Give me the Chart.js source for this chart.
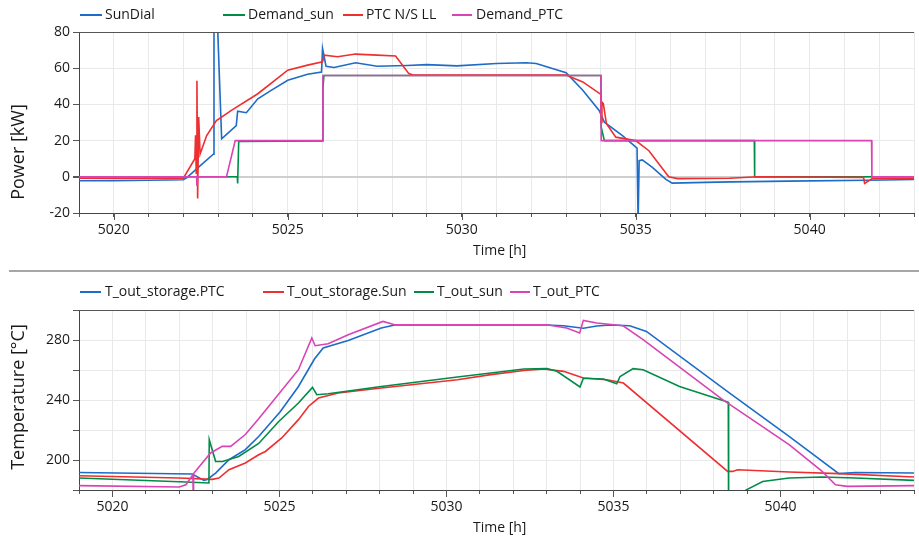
<!DOCTYPE html>
<html>
<head>
<meta charset="utf-8">
<script src="https://cdn.jsdelivr.net/npm/chart.js@4.4.1/dist/chart.umd.min.js"></script>
<style>
  html, body { margin: 0; padding: 0; background: #ffffff; }
  body { width: 919px; height: 542px; position: relative; overflow: hidden; }
  .panel { position: absolute; left: 0; }
  #p1 { top: 0; width: 919px; height: 270px; }
  #p2 { top: 270px; width: 919px; height: 272px; }
</style>
</head>
<body>
<div class="panel" id="p1"><canvas id="c1" width="919" height="270"></canvas></div>
<div class="panel" id="p2"><canvas id="c2" width="919" height="272"></canvas></div>
<script>
// ---------------- DATA ----------------
// Top panel: Power [kW] vs Time [h]
const powerLabels = ["SunDial", "Demand_sun", "PTC N/S LL", "Demand_PTC"];
const sunDial = [[5019,-2.2],[5020,-2.1],[5021,-1.9],[5022,-1.6],[5022.1,-0.5],[5022.43,5.2],[5022.86,12.5],[5022.88,90],[5022.97,90],[5023.1,21],[5023.52,28.3],[5023.56,36.3],[5023.81,35.4],[5024.14,43.1],[5024.5,47.5],[5025,53.3],[5025.57,56.7],[5025.97,57.9],[5026.0,70.9],[5026.1,61.1],[5026.33,60.4],[5026.95,63],[5027.57,61.1],[5028.43,61.5],[5029,62],[5029.86,61.3],[5031,62.6],[5031.86,63],[5032.14,62.6],[5033,57.5],[5033.48,47.8],[5033.95,36.7],[5034.1,30.2],[5034.62,22.8],[5035.04,15.9],[5035.07,-25],[5035.1,8.9],[5035.19,9.3],[5035.48,5.2],[5035.86,-1.3],[5036.05,-3.5],[5037,-3.1],[5037.76,-2.8],[5039.37,-2.4],[5041.67,-1.9],[5043,-1.5]];
const demandSun = [[5019,0],[5023.55,0],[5023.56,-3.7],[5023.59,19.5],[5026.0,19.8],[5026.01,48.7],[5026.04,56],[5034.0,56],[5034.01,27.4],[5034.1,20],[5038.41,20],[5038.42,0],[5043,0]];
const ptcNSLL = [[5019,-0.8],[5022,-0.8],[5022.33,10],[5022.35,23],[5022.37,2],[5022.39,53],[5022.41,-12],[5022.44,33],[5022.48,12.6],[5022.67,22.8],[5022.95,31.1],[5023.38,36.7],[5024.14,45.9],[5025,58.9],[5025.57,61.7],[5026,63.5],[5026.05,67.2],[5026.43,66.3],[5026.95,67.8],[5027.57,67.2],[5028.1,66.7],[5028.48,57],[5028.6,56.2],[5033,56.2],[5033.48,52.4],[5034.0,45.5],[5034.01,30],[5034.03,41.3],[5034.07,40.4],[5034.16,29.3],[5034.43,21.9],[5035.0,20],[5035.38,14.4],[5035.95,0],[5036.2,-1],[5037.7,-0.8],[5038.5,0],[5041.55,-0.3],[5041.58,-3.7],[5041.8,-1],[5043,-0.8]];
const demandPTC = [[5019,0],[5022.38,0],[5022.39,-5],[5022.41,0],[5023.24,0],[5023.49,20],[5026.0,20],[5026.01,56],[5034.0,56],[5034.01,20],[5041.78,20],[5041.79,0],[5043,0]];

// Bottom panel: Temperature [°C] vs Time [h]
const tempLabels = ["T_out_storage.PTC", "T_out_storage.Sun", "T_out_sun", "T_out_PTC"];
const tStoragePTC = [[5019,191.7],[5022.39,190.7],[5022.74,186.4],[5022.84,187],[5023.09,191.3],[5023.49,200.2],[5023.98,206.9],[5024.38,215.7],[5025.03,232.4],[5025.57,249],[5026.05,267.3],[5026.31,274.7],[5027.06,279.7],[5028.05,288],[5028.45,290],[5033.0,290],[5033.5,289.5],[5034.1,287.8],[5034.5,289.3],[5034.9,290],[5035.49,289.5],[5035.99,285.7],[5038.47,244.7],[5040.26,215.7],[5041.75,190.9],[5042.24,191.7],[5044,191.3]];
const tStorageSun = [[5019,189.5],[5022,188],[5022.99,187.1],[5023.19,188],[5023.49,193.5],[5023.98,198],[5024.38,203.5],[5024.58,205.7],[5025.07,214.7],[5025.57,226.9],[5025.87,235.7],[5026.17,241.3],[5026.76,244.7],[5028.05,248],[5030.33,253.5],[5031.33,256.9],[5032.32,259.7],[5032.92,260.7],[5033.51,259.1],[5034.1,254.7],[5034.8,253.5],[5035.3,251.3],[5038.42,192.4],[5038.57,192.4],[5038.72,193.5],[5040.26,192],[5041.75,190.9],[5044,188.7]];
const tOutSun = [[5019,188],[5022,185.5],[5022.89,184.7],[5022.9,213.5],[5023.09,199.1],[5023.3,199],[5023.78,202.4],[5024.38,211],[5024.98,225.7],[5025.57,238],[5025.99,248.4],[5026.12,243.5],[5026.46,244.2],[5028.05,249],[5030.33,255.3],[5031.33,258],[5032.32,260.7],[5033.01,260.9],[5033.31,259.1],[5034.0,248.7],[5034.1,254.5],[5034.7,254],[5035.1,250.9],[5035.2,255.7],[5035.59,260.9],[5035.89,260.2],[5036.98,249],[5038.37,239],[5038.44,238.5],[5038.45,150],[5038.8,170],[5038.97,180],[5039.47,185.7],[5040.26,188],[5041.25,188.7],[5042.24,188],[5044,186.4]];
const tOutPTC = [[5019,182.9],[5022,182],[5022.2,183.5],[5022.41,190.2],[5022.42,176],[5022.43,191],[5022.94,204.7],[5023.29,209.1],[5023.54,209.1],[5023.98,217],[5024.38,227.5],[5024.58,233],[5025.57,260.2],[5025.97,281.3],[5026.07,276.2],[5026.46,277.5],[5027.06,283.5],[5028.1,292.4],[5028.45,290.2],[5033.0,290.2],[5033.6,288],[5033.99,284.7],[5034.1,293.1],[5034.5,291.3],[5035.29,289.5],[5035.89,280.2],[5038.27,240.2],[5040.26,210.2],[5041.25,192.4],[5041.65,183.5],[5042,182.4],[5044,182.9]];

// Axis ranges and tick labels
const powerXRange = [5019, 5043];
const tempXRange = [5019, 5044];
const powerYRange = [-20, 80];
const tempYRange = [180, 300];
const xLabelTicks = [5020, 5025, 5030, 5035, 5040];
const powerYLabelTicks = [-20, 0, 20, 40, 60, 80];
const tempYLabelTicks = [200, 240, 280];

// ---------------- STYLE ----------------
const COLORS = ['rgb(28,108,200)', 'rgb(238,46,47)', 'rgb(0,140,72)', 'rgb(217,67,180)'];
const FONT = '"Open Sans", "Noto Sans", sans-serif';
const TEXT = '#1a1a1a';

function toXY(pairs) { return pairs.map(p => ({ x: p[0], y: p[1] })); }

function makeDatasets(labels, series, colorIdx) {
  return series.map((s, i) => ({
    label: labels[i],
    data: toXY(s),
    borderColor: COLORS[colorIdx[i]],
    backgroundColor: COLORS[colorIdx[i]],
    borderWidth: 1.6,
    pointRadius: 0,
    tension: 0,
    fill: false,
    order: series.length - 1 - i
  }));
}

function decorPlugin(cfg) {
  return {
    id: 'decor',
    afterDraw(chart) {
      const ctx = chart.ctx;
      const a = chart.chartArea;
      ctx.save();
      // top frame line
      ctx.strokeStyle = '#555';
      ctx.lineWidth = 1;
      ctx.beginPath();
      ctx.moveTo(a.left, Math.round(a.top) + 0.5);
      ctx.lineTo(a.right, Math.round(a.top) + 0.5);
      ctx.stroke();
      // longer ticks at labelled x values
      const xs = chart.scales.x;
      ctx.strokeStyle = '#555';
      xLabelTicks.forEach(v => {
        const px = Math.round(xs.getPixelForValue(v)) + 0.5;
        ctx.beginPath();
        ctx.moveTo(px, a.bottom);
        ctx.lineTo(px, a.bottom + 7);
        ctx.stroke();
      });
      // separator
      if (cfg.separator) {
        ctx.strokeStyle = '#a6a6a6';
        ctx.lineWidth = 2;
        ctx.beginPath();
        ctx.moveTo(9, cfg.separator);
        ctx.lineTo(919, cfg.separator);
        ctx.stroke();
      }
      // legend
      ctx.font = '14px ' + FONT;
      ctx.textBaseline = 'middle';
      ctx.textAlign = 'left';
      cfg.legend.forEach((it, i) => {
        const ds = chart.data.datasets[i];
        ctx.strokeStyle = ds.borderColor;
        ctx.lineWidth = 2;
        ctx.beginPath();
        ctx.moveTo(it.x0, cfg.legendY);
        ctx.lineTo(it.x1, cfg.legendY);
        ctx.stroke();
        ctx.fillStyle = TEXT;
        ctx.fillText(ds.label, it.tx, cfg.legendY);
      });
      // x title
      ctx.fillStyle = TEXT;
      ctx.font = '14px ' + FONT;
      ctx.fillText(cfg.xTitle, cfg.xTitleX, cfg.xTitleY);
      // y title
      ctx.translate(cfg.yTitleX, cfg.yTitleY);
      ctx.rotate(-Math.PI / 2);
      ctx.textAlign = 'center';
      ctx.font = '18px ' + FONT;
      ctx.fillText(cfg.yTitle, 0, 0);
      ctx.restore();
    }
  };
}

function makeChart(canvasId, datasets, xr, yr, yLabelTicks, yWidth, xHeight, padTop, zeroLine, decor) {
  return new Chart(document.getElementById(canvasId), {
    type: 'line',
    data: { datasets },
    options: {
      responsive: false,
      animation: false,
      events: [],
      layout: { padding: { top: padTop, left: 0, right: 0, bottom: 0 } },
      plugins: { legend: { display: false }, tooltip: { enabled: false }, title: { display: false } },
      scales: {
        x: {
          type: 'linear',
          min: xr[0], max: xr[1],
          afterFit(s) { s.height = xHeight; },
          border: { display: true, color: '#444', width: 1 },
          grid: { color: '#e9e9e9', lineWidth: 1, drawTicks: true, tickLength: 4, tickColor: '#555' },
          ticks: {
            stepSize: 1, autoSkip: false, maxRotation: 0, padding: 5,
            color: TEXT, font: { family: FONT, size: 14 },
            callback: v => xLabelTicks.includes(v) ? String(v) : ''
          }
        },
        y: {
          type: 'linear',
          min: yr[0], max: yr[1],
          afterFit(s) { s.width = yWidth; },
          border: { display: true, color: '#444', width: 1 },
          grid: {
            color: c => (zeroLine && c.tick && c.tick.value === 0) ? '#cfcfcf' : '#e9e9e9',
            lineWidth: c => (zeroLine && c.tick && c.tick.value === 0) ? 2 : 1,
            drawTicks: true, tickLength: 6, tickColor: '#555'
          },
          ticks: {
            stepSize: 20, padding: 3,
            color: TEXT, font: { family: FONT, size: 14 },
            callback: v => yLabelTicks.includes(v) ? String(v) : ''
          }
        }
      }
    },
    plugins: [decorPlugin(decor)]
  });
}

makeChart('c1',
  makeDatasets(powerLabels, [sunDial, demandSun, ptcNSLL, demandPTC], [0, 2, 1, 3]),
  powerXRange, powerYRange, powerYLabelTicks, 79, 57, 32, true,
  {
    legendY: 15,
    legend: [{x0:80,x1:102,tx:105},{x0:223,x1:245,tx:248},{x0:343,x1:363,tx:366},{x0:452,x1:472,tx:476}],
    xTitle: 'Time [h]', xTitleX: 473, xTitleY: 251,
    yTitle: 'Power [kW]', yTitleX: 19, yTitleY: 152
  });

makeChart('c2',
  makeDatasets(tempLabels, [tStoragePTC, tStorageSun, tOutSun, tOutPTC], [0, 1, 2, 3]),
  tempXRange, tempYRange, tempYLabelTicks, 79, 52, 40, false,
  {
    separator: 1,
    legendY: 22,
    legend: [{x0:80,x1:101,tx:105},{x0:263,x1:284,tx:287},{x0:414,x1:434,tx:437},{x0:510,x1:530,tx:533}],
    xTitle: 'Time [h]', xTitleX: 473, xTitleY: 258,
    yTitle: 'Temperature [°C]', yTitleX: 19, yTitleY: 127
  });
</script>
</body>
</html>
